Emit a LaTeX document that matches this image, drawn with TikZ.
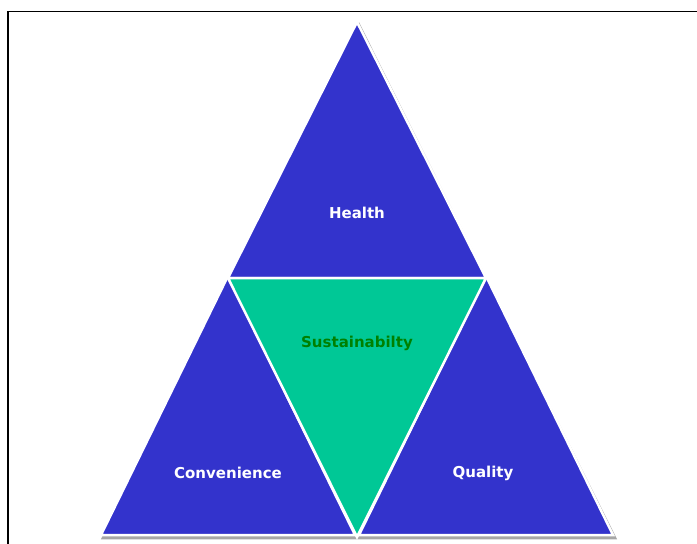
\documentclass[tikz,border=0pt]{standalone}
\usepackage{fontspec}
\setmainfont{DejaVu Sans}
\definecolor{triblue}{RGB}{51,51,204}
\definecolor{trigreen}{RGB}{0,200,150}
\definecolor{textgreen}{RGB}{0,128,0}
\begin{document}
\begin{tikzpicture}[x=1pt,y=-1pt,
			blueface/.style={fill=triblue, draw=white, line width=2.5pt, line join=miter},
			greenface/.style={fill=trigreen, draw=white, line width=2.5pt, line join=miter},
			dropshadow/.style={fill=black!35, draw=black!35, line width=2.5pt},
			label/.style={font=\bfseries\fontsize{15}{18}\selectfont, text=white},
			]
			\useasboundingbox (0,0) rectangle (697,544);
			% frame
			\draw[line width=1.6pt, line cap=rect] (8,544) -- (8,11.5) -- (697,11.5);
			% corners
			\coordinate (top) at (357,22);
			\coordinate (midleft) at (228,278);
			\coordinate (midright) at (486,278);
			\coordinate (botleft) at (101,535);
			\coordinate (botmid) at (357,535);
			\coordinate (botright) at (613,535);
			% shadows
			\fill[dropshadow] ([shift={(2,3)}]botleft) -- ([shift={(2,3)}]botright) -- ([shift={(2,3)}]top) -- cycle;
			% faces
			\draw[blueface] (top) -- (midright) -- (midleft) -- cycle;
			\draw[blueface] ([yshift=2]midleft) -- ([xshift=-2]botmid) -- (botleft) -- cycle;
			\draw[blueface] ([yshift=2]midright) -- (botright) -- ([xshift=2]botmid) -- cycle;
			\draw[greenface] (midleft) -- (midright) -- ([yshift=-2]botmid) -- cycle;
			% texts
			\node[label] at (357,213) (health) {Health};
			\node[label, text=textgreen] at (357,343) (sustain) {Sustainabilty};
			\node[label] at (228,473) (convenience) {Convenience};
			\node[label] at (483,473) (quality) {Quality};
		\end{tikzpicture}
\end{document}
